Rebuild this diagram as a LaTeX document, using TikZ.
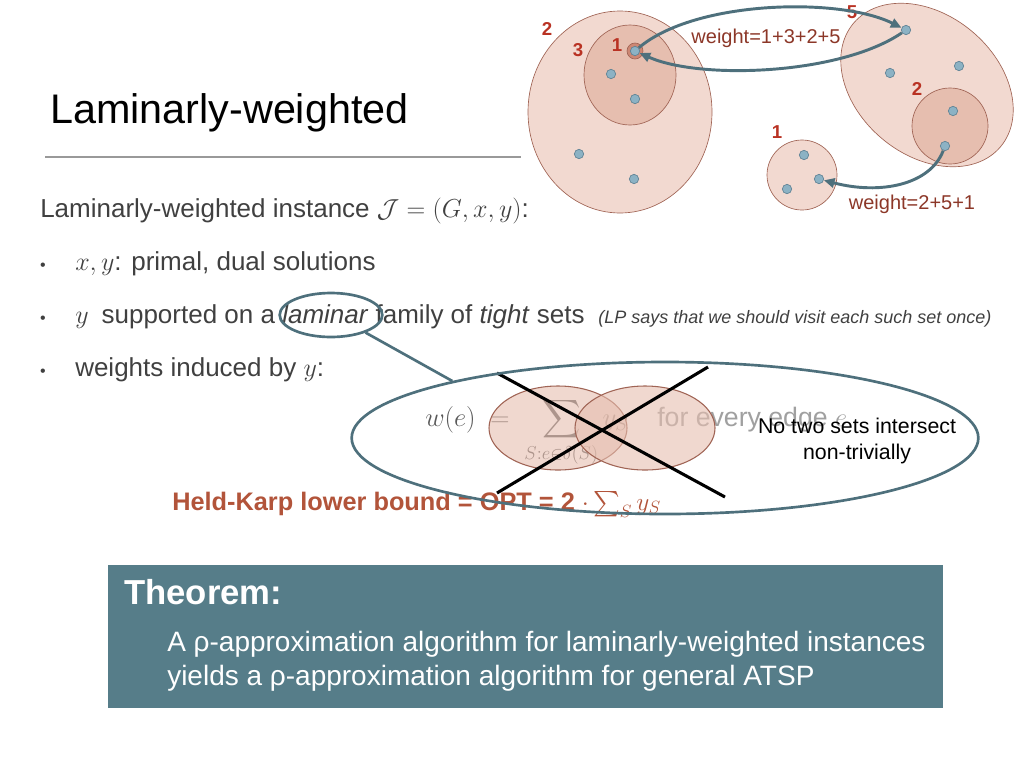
\RequirePackage{fix-cm}
\documentclass[tikz,border=0pt]{standalone}
\usepackage{amsmath}
\usepackage{amssymb}
\usepackage[no-math]{fontspec}
\setmainfont{Liberation Sans}
\usepackage{tikz}
\usetikzlibrary{shapes.geometric,arrows.meta}

\definecolor{setfill}{RGB}{242,217,208}
\definecolor{setinner}{RGB}{230,190,175}
\definecolor{setcore}{RGB}{205,135,115}
\definecolor{setline}{RGB}{160,100,85}
\definecolor{setnum}{RGB}{185,50,35}
\definecolor{wtext}{RGB}{140,55,40}
\definecolor{flowteal}{RGB}{78,112,124}
\definecolor{dotfill}{RGB}{140,178,196}
\definecolor{dotline}{RGB}{95,130,148}
\definecolor{bodytext}{RGB}{64,64,64}
\definecolor{hkcolor}{RGB}{178,84,58}
\definecolor{thmfill}{RGB}{86,125,137}

\begin{document}
\begin{tikzpicture}[x=0.75pt,y=0.75pt,yscale=-1,xscale=1,
  vertex/.style={circle,draw=dotline,fill=dotfill,line width=0.5pt,inner sep=0pt,minimum size=7pt},
  setnum/.style={text=setnum,font=\bfseries\fontsize{14}{16}\selectfont,inner sep=0pt},
  weightlbl/.style={text=wtext,font=\fontsize{15}{18}\selectfont,inner sep=0.75pt},
  flow/.style={draw=flowteal,line width=2.2pt,-{Triangle[length=8pt,width=7pt]}},
  ring/.style={ellipse,draw=flowteal,line width=2pt,inner sep=0pt},
  bodyline/.style={anchor=base west,text=bodytext,font=\fontsize{19.5}{23}\selectfont,inner sep=0pt},
  thmline/.style={anchor=base west,text=white,font=\fontsize{21}{25}\selectfont,inner sep=0pt}]
\useasboundingbox (0,0) rectangle (1024,768);

%Shape: Ellipse (left set)
\draw [setline,fill=setfill,line width=0.5pt] (620,112) ellipse (92 and 101);
\draw [setline,fill=setinner,line width=0.5pt] (630,75) ellipse (46 and 50);
\draw [setline,fill=setcore,line width=0.5pt] (635,51) circle (8);
%Shape: Ellipse (right set)
\draw [setline,fill=setfill,line width=0.5pt,rotate around={40:(927,85)}] (927,85) ellipse (96 and 70);
\draw [setline,fill=setinner,line width=0.5pt] (950,126) circle (38);
%Shape: Circle (small set)
\draw [setline,fill=setfill,line width=0.5pt] (802,175) circle (35);

% Set weights
\node [setnum] (n2a) at (547,29) {2};
\node [setnum] (n3a) at (578,50) {3};
\node [setnum] (n1a) at (617,45) {1};
\node [setnum] (n5b) at (852,12) {5};
\node [setnum] (n2b) at (917,89) {2};
\node [setnum] (n1c) at (777,132) {1};

% Vertices
\node [vertex] (l1) at (635,51) {};
\node [vertex] (l2) at (611,74) {};
\node [vertex] (l3) at (635,99) {};
\node [vertex] (l4) at (579,154) {};
\node [vertex] (l5) at (634,179) {};
\node [vertex] (r1) at (906,30) {};
\node [vertex] (r2) at (890,73) {};
\node [vertex] (r3) at (959,66) {};
\node [vertex] (r4) at (953,111) {};
\node [vertex] (r5) at (945,146) {};
\node [vertex] (s1) at (804,155) {};
\node [vertex] (s2) at (819,179) {};
\node [vertex] (s3) at (787,189) {};

% Edges
\draw [flow] (l1) .. controls (695,0) and (840,-3) .. (r1);
\draw [flow] (r1) .. controls (840,75) and (700,80) .. (l1);
\draw [flow] (r5) .. controls (930,185) and (880,195) .. (s2);

% Text Node
\node [weightlbl] (w1) at (766,38) {weight=1+3+2+5};
\node [weightlbl] (w2) at (912,204) {weight=2+5+1};

% Text Node
\node [anchor=base west,inner sep=0pt,font=\fontsize{31}{36}\selectfont] (title) at (50,123) {Laminarly-weighted};
\draw [color={rgb,255:red,153;green,153;blue,153},line width=1.5pt] (45,157) -- (521,157);

% Text Node
\node [bodyline] (inst) at (40,217) {Laminarly-weighted instance $\mathcal{J}=(G,x,y)$:};
\node [anchor=base,text=bodytext,inner sep=0pt,font=\fontsize{12}{14}\selectfont] (b1) at (43,270) {\textbullet};
\node [anchor=base,text=bodytext,inner sep=0pt,font=\fontsize{12}{14}\selectfont] (b2) at (43,323) {\textbullet};
\node [anchor=base,text=bodytext,inner sep=0pt,font=\fontsize{12}{14}\selectfont] (b3) at (43,376) {\textbullet};
\node [bodyline] (item1) at (75,270) {$x,y$: primal, dual solutions};
\node [bodyline] (item2) at (75,323) {$y$\enspace supported on a \textit{laminar} family of \textit{tight} sets};
\node [anchor=base west,text=bodytext,inner sep=0pt,font=\itshape\fontsize{13.5}{16}\selectfont] (lpnote) at (598,323) {(LP says that we should visit each such set once)};
\node [bodyline] (item3) at (75,376) {weights induced by $y$:};

% Formula
\node [anchor=base west,text={rgb,255:red,89;green,89;blue,89},inner sep=0pt,font=\fontsize{20}{24}\selectfont] (wdef) at (425,426) {$w(e)\;=\;\displaystyle\sum_{S:e\in\delta(S)} y_S$};
\node [anchor=base west,text={rgb,255:red,160;green,160;blue,160},inner sep=0pt,font=\fontsize{20}{24}\selectfont] (every) at (657,426) {for every edge $e$};

%Shape: Ellipse (intersecting sets)
\draw [setline,fill=setinner,fill opacity=0.6,line width=0.8pt] (558,428) ellipse (69 and 42);
\draw [setline,fill=setinner,fill opacity=0.6,line width=0.8pt] (645,428) ellipse (70 and 42);
%Straight Lines
\draw [black,line width=2.3pt] (497,373) -- (725,497);
\draw [black,line width=2.3pt] (708,367) -- (497,493);

% Text Node
\node [align=center,inner sep=0pt,font=\fontsize{16}{20}\selectfont] (note) at (857,441) {No two sets intersect\\non-trivially};

% Text Node
\node [anchor=base west,text=hkcolor,inner sep=0pt,font=\bfseries\fontsize{19}{23}\selectfont] (hk) at (172,510) {Held-Karp lower bound = OPT = 2 $\cdot \sum_S y_S$};

% Rings
\node [ring,minimum width=77pt,minimum height=33pt] (lamring) at (331,315) {};
\node [ring,minimum width=470pt,minimum height=114pt] (bigring) at (665,438) {};
\draw [draw=flowteal,line width=2pt] (lamring.-27) -- (bigring.165);

%Shape: Rectangle
\fill [thmfill] (108,565) rectangle (943,708);
% Text Node
\node [anchor=base west,text=white,inner sep=0pt,font=\bfseries\fontsize{26}{30}\selectfont] (thm) at (124,604) {Theorem:};
\node [thmline] (thm1) at (167,651) {A ρ-approximation algorithm for laminarly-weighted instances};
\node [thmline] (thm2) at (167,685) {yields a ρ-approximation algorithm for general ATSP};
\end{tikzpicture}
\end{document}
